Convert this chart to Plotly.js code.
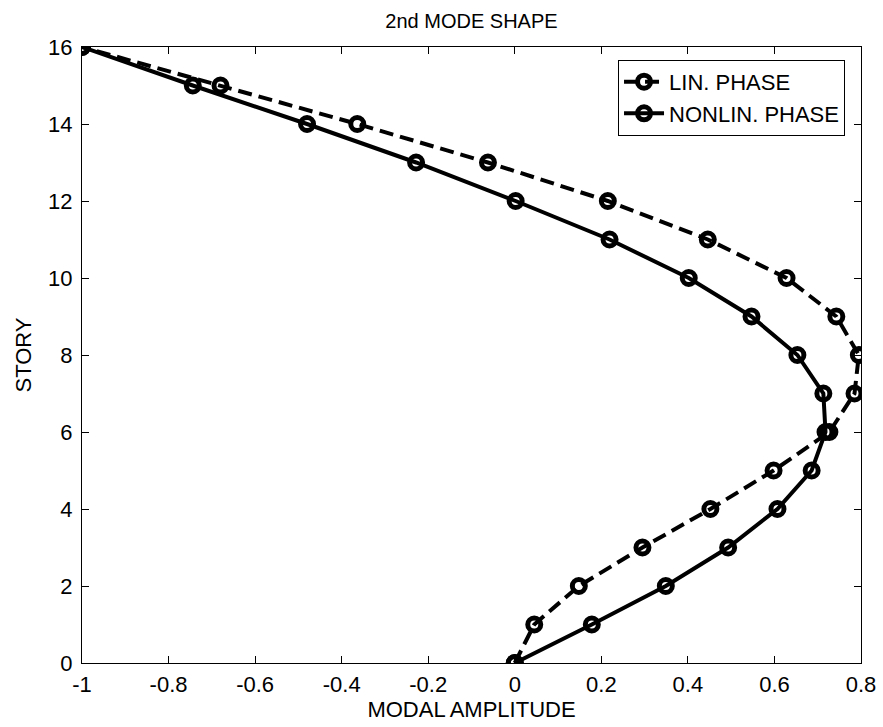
<!DOCTYPE html>
<html>
<head>
<meta charset="utf-8">
<script src="https://cdn.plot.ly/plotly-3.0.1.min.js"></script>
<style>html,body{margin:0;padding:0;background:#fff;}#chart{width:883px;height:727px;}</style>
</head>
<body>
<div id="chart"></div>
<script>
const story = [0,1,2,3,4,5,6,7,8,9,10,11,12,13,14,15,16];
const linPhase = [0, 0.045, 0.148, 0.295, 0.452, 0.598, 0.727, 0.785, 0.795, 0.743, 0.628, 0.446, 0.215, -0.062, -0.364, -0.680, -1];
const nonlinPhase = [0, 0.178, 0.349, 0.493, 0.607, 0.686, 0.718, 0.713, 0.653, 0.547, 0.402, 0.219, 0.002, -0.228, -0.480, -0.744, -1];
const xTickVals = [-1,-0.8,-0.6,-0.4,-0.2,0,0.2,0.4,0.6,0.8];
const xTickText = ['-1','-0.8','-0.6','-0.4','-0.2','0','0.2','0.4','0.6','0.8'];
const yTickVals = [0,2,4,6,8,10,12,14,16];
const seriesNames = ['LIN. PHASE','NONLIN. PHASE'];

const marker = {symbol:'circle-open', size:13, color:'#000', line:{width:5, color:'#000'}};
const traces = [
  {x: linPhase, y: story, name: seriesNames[0], mode:'lines+markers', type:'scatter',
   line:{color:'#000', width:4, dash:'14px,7px'}, marker: marker},
  {x: nonlinPhase, y: story, name: seriesNames[1], mode:'lines+markers', type:'scatter',
   line:{color:'#000', width:4}, marker: marker}
];
const fnt = 'Liberation Sans, Arial, sans-serif';
const axisCommon = {showline:true, mirror:'ticks', linecolor:'#000', linewidth:1, ticks:'inside', ticklen:7, tickcolor:'#000', tickwidth:1, showgrid:false, zeroline:false, tickfont:{family:fnt, size:22, color:'#000'}};
const layout = {
  width:883, height:727,
  margin:{l:82, r:22, t:47, b:64},
  paper_bgcolor:'#fff', plot_bgcolor:'#fff',
  font:{family:fnt, color:'#000'},
  title:{text:'2nd MODE SHAPE', font:{family:fnt, size:20, color:'#000'}, xref:'paper', x:0.5, xanchor:'center', y:0.971, yanchor:'middle'},
  xaxis: Object.assign({}, axisCommon, {range:[-1,0.8], tickvals:xTickVals, ticktext:xTickText, ticklabelstandoff:2, title:{text:'MODAL AMPLITUDE', font:{family:fnt, size:22, color:'#000'}, standoff:4}}),
  yaxis: Object.assign({}, axisCommon, {range:[0,16], tickvals:yTickVals, ticklabelstandoff:4, title:{text:'STORY', font:{family:fnt, size:22, color:'#000'}, standoff:10}}),
  showlegend:true,
  legend:{x:0.9795, y:0.979, xanchor:'right', yanchor:'top', bordercolor:'#000', borderwidth:1, bgcolor:'#fff', font:{family:fnt, size:22, color:'#000'}, itemwidth:40, tracegroupgap:0}
};
Plotly.newPlot('chart', traces, layout, {displayModeBar:false, staticPlot:true});
</script>
</body>
</html>
